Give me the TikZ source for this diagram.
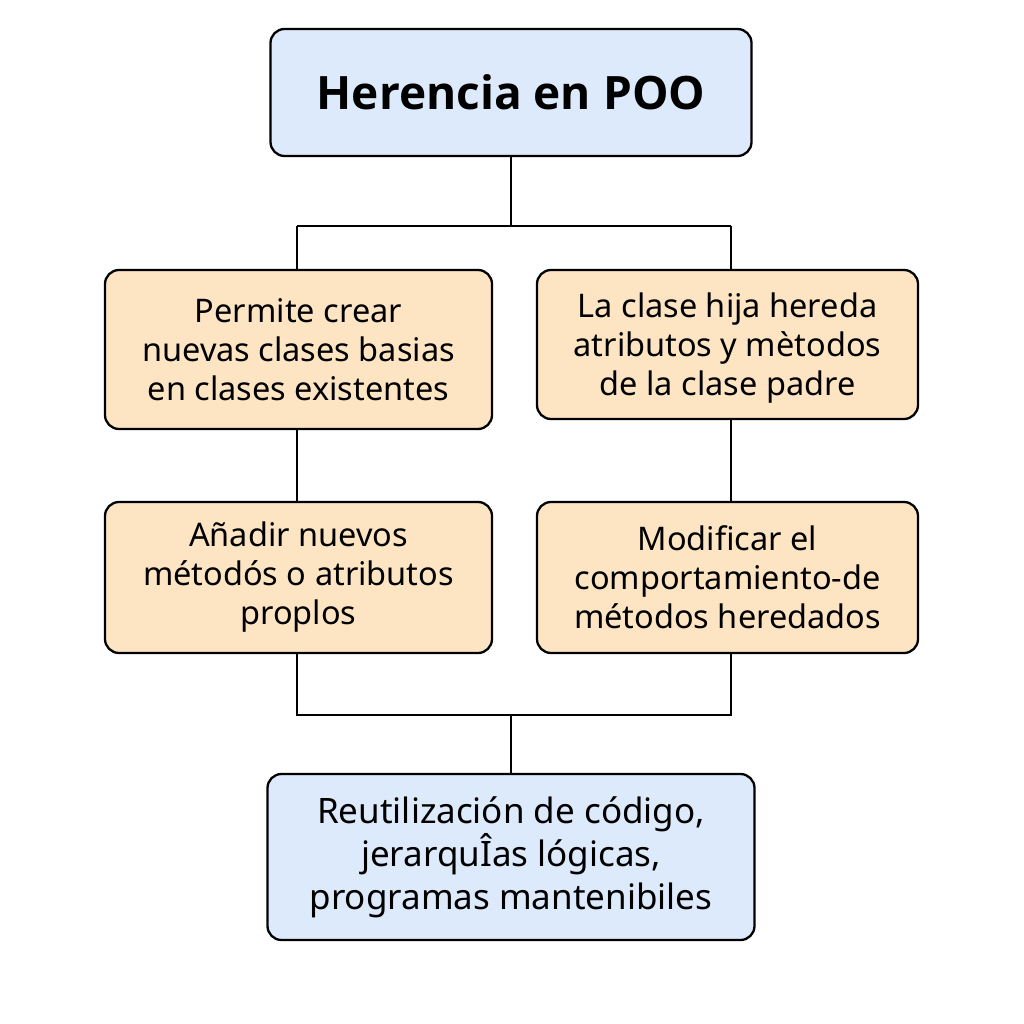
\documentclass[tikz,border=0pt]{standalone}
\usepackage{fontspec}
\setmainfont{Noto Sans}
\newfontfamily\titlefont{Open Sans}
\definecolor{bluefill}{HTML}{DDEAFB}
\definecolor{orangefill}{HTML}{FDE5C3}
\begin{document}
\begin{tikzpicture}[x=1pt,y=-1pt,
  box/.style={draw=black, line width=2.3pt, rounded corners=14pt, align=center, inner sep=0pt, font=\fontsize{32.5}{39}\selectfont},
  bluebox/.style={box, fill=bluefill},
  orangebox/.style={box, fill=orangefill},
  conn/.style={draw=black, line width=2.3pt}]
\useasboundingbox (0,0) rectangle (1024,1024);
\node[bluebox, minimum width=481pt, minimum height=127pt, font=\titlefont\bfseries\fontsize{46}{54}\selectfont] (title) at (511,92.5) {Herencia en POO};
\node[orangebox, minimum width=387pt, minimum height=159pt] (l1) at (298.5,349.5) {Permite crear\\nuevas clases basias\\en clases existentes};
\node[orangebox, minimum width=381pt, minimum height=149pt, text depth=0pt] (r1) at (727.5,344.5) {La clase hija hereda\\atributos y mètodos\\de la clase padre};
\node[orangebox, minimum width=387pt, minimum height=151pt] (l2) at (298.5,577.5) {Añadir nuevos\\métodós o atributos\\proplos};
\node[orangebox, minimum width=381pt, minimum height=151pt] (r2) at (727.5,577.5) {Modificar el\\comportamiento-de\\métodos heredados};
\node[bluebox, minimum width=487pt, minimum height=166pt, font=\fontsize{35}{43}\selectfont] (bot) at (511,857) {Reutilización de código,\\jerarquÎas lógicas,\\programas mantenibiles};
\coordinate (t1) at (511,226);
\coordinate (tl) at (297,226);
\coordinate (tr) at (731,226);
\coordinate (b1) at (511,715);
\coordinate (bl) at (297,715);
\coordinate (br) at (731,715);
\draw[conn] (title.south) -- (t1);
\draw[conn] (tl) -- (tr);
\draw[conn] (tl) -- (tl |- l1.north);
\draw[conn] (tr) -- (tr |- r1.north);
\draw[conn] (l1.south -| tl) -- (l2.north -| tl);
\draw[conn] (r1.south -| tr) -- (r2.north -| tr);
\draw[conn] (l2.south -| bl) -- (bl) -- (br) -- (r2.south -| br);
\draw[conn] (b1) -- (bot.north);
\end{tikzpicture}
\end{document}
